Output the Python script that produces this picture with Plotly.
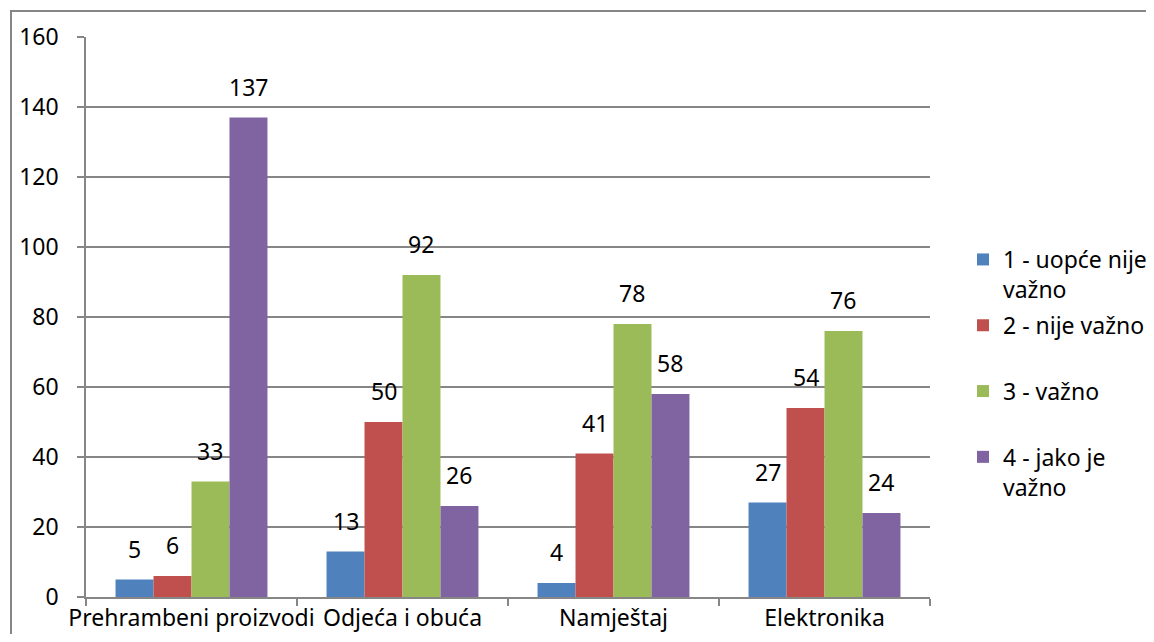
import plotly.graph_objects as go

categories = ["Prehrambeni proizvodi", "Odjeća i obuća", "Namještaj", "Elektronika"]
series_names = ["1 - uopće nije<br>važno", "2 - nije važno<br>\u00a0", "3 - važno<br>\u00a0", "4 - jako je<br>važno"]
s1 = [5, 13, 4, 27]
s2 = [6, 50, 41, 54]
s3 = [33, 92, 78, 76]
s4 = [137, 26, 58, 24]
y_ticks = [0, 20, 40, 60, 80, 100, 120, 140, 160]

colors = ["#4F81BD", "#C0504D", "#9BBB59", "#8064A2"]
FONT = "Noto Sans"
FS = 23

# the page body adds an 8px margin on every side; size the figure so the
# page exactly fills the 1154x642 window and work in page pixels
OFF = 8
W, H = 1154 - 2 * OFF, 642 - 2 * OFF
PL, PR, PT, PB = 86, 930, 37, 597          # plot area in page pixels
L, T = PL - OFF, PT - OFF
R, B = W - (PR - OFF), H - (PB - OFF)
pw, ph = PR - PL, PB - PT

def px_x(x):
    return (x - PL) / pw

def px_y(y):
    return (PB - y) / ph

BARGAP = 0.28
cat_px = pw / len(categories)
bar_px = cat_px * (1 - BARGAP) / 4

fig = go.Figure()
annotations = []
all_series = [s1, s2, s3, s4]
for i, (name, vals) in enumerate(zip(series_names, all_series)):
    fig.add_trace(go.Bar(
        x=categories, y=vals, name=name,
        marker=dict(color=colors[i], line=dict(width=0)),
        legendgroup=f"g{i}",
    ))
    xshift = (i - 1.5) * bar_px
    for c, v in zip(categories, vals):
        annotations.append(dict(
            x=c, y=v, xref="x", yref="y", text=str(v), showarrow=False,
            xshift=xshift, yshift=13, yanchor="bottom", xanchor="center",
            font=dict(family=FONT, size=FS, color="#000000"),
        ))

frame = dict(color="#868686", width=2)
fig.update_layout(
    width=W, height=H, autosize=False,
    margin=dict(l=L, r=R, t=T, b=B, pad=0, autoexpand=False),
    paper_bgcolor="white", plot_bgcolor="white",
    barmode="group", bargap=BARGAP, bargroupgap=0,
    font=dict(family=FONT, size=FS, color="#000000"),
    showlegend=True,
    legend=dict(
        x=px_x(963), xanchor="left",
        y=px_y(238), yanchor="top",
        font=dict(family=FONT, size=FS, color="#000000"),
        valign="top", tracegroupgap=3,
        bgcolor="rgba(0,0,0,0)", borderwidth=0,
    ),
    xaxis=dict(
        type="category", showgrid=False, showline=True,
        linecolor="#868686", linewidth=1.5,
        ticks="outside", tickson="boundaries", ticklen=7,
        tickcolor="#868686", tickwidth=1.5, tickangle=0, automargin=False,
        tickfont=dict(family=FONT, size=23, color="#000000"),
    ),
    yaxis=dict(
        range=[0, 160], tickvals=y_ticks, showgrid=True,
        gridcolor="#868686", gridwidth=1.5,
        showline=True, linecolor="#868686", linewidth=1.5,
        ticks="outside", ticklen=7, tickcolor="#868686", tickwidth=1.5,
        tickfont=dict(family=FONT, size=FS, color="#000000"),
        ticklabelstandoff=14, zeroline=False, automargin=False,
    ),
    annotations=annotations,
    shapes=[
        dict(type="line", xref="paper", yref="paper",
             x0=px_x(10), x1=px_x(1154 - OFF), y0=px_y(11), y1=px_y(11),
             line=frame, layer="above"),
        dict(type="line", xref="paper", yref="paper",
             x0=px_x(11), x1=px_x(11), y0=px_y(10), y1=px_y(642 - OFF),
             line=frame, layer="above"),
    ],
)

fig.write_html("out.html", config={"displayModeBar": False})
